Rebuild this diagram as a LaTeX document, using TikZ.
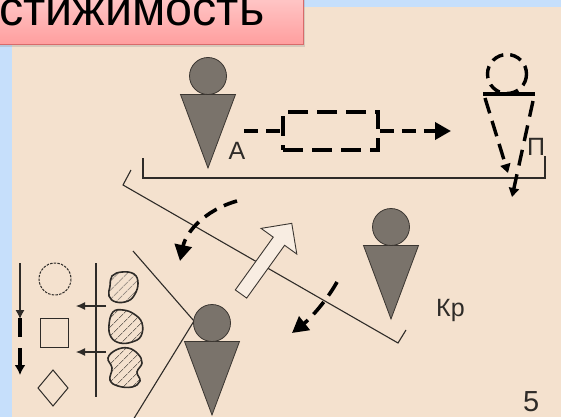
\documentclass[tikz,border=0pt]{standalone}
\usepackage{fontspec}
\setmainfont{Liberation Sans}
\usetikzlibrary{arrows.meta,patterns.meta,shadows,positioning}

\definecolor{fon}{HTML}{F4E1CE}
\definecolor{polosa}{HTML}{C6DFFB}
\definecolor{telo}{HTML}{7A736B}
\definecolor{kontur}{HTML}{3B3631}
\definecolor{liniya}{HTML}{2E2B28}
\definecolor{rozTop}{HTML}{FFCBCB}
\definecolor{rozBot}{HTML}{FF9E9E}
\definecolor{ramka}{HTML}{D86A6A}

% person: head + cone, #1 name, (#2,#3) head centre
\newcommand{\chelovek}[3]{%
  \fill[telo, draw=kontur, line width=0.8pt] (#2-27.5,#3+18.5) -- (#2+27.5,#3+18.5) -- (#2,#3+92) -- cycle;
  \draw[kontur, fill=telo, line width=0.8pt] (#2,#3) circle[radius=18.5];
  \coordinate (#1) at (#2,#3);
}

\begin{document}
\begin{tikzpicture}[x=1pt, y=-1pt,
    tonk/.style={draw=liniya, line width=1.1pt},
    shtrih/.style={draw=black, line width=3.6pt, dash pattern=on 14pt off 8pt},
    strelka/.style={-{Triangle[length=16pt,width=17pt]}},
    malstrelka/.style={-{Triangle[length=9pt,width=10pt]}},
    shtrihbox/.style={rectangle, draw=black, line width=3.6pt, dash pattern=on 20pt off 9pt,
      minimum width=95pt, minimum height=38pt, inner sep=0pt},
    metka/.style={text=liniya, font=\fontsize{25}{25}\selectfont, inner sep=0pt},
    pyatno/.style={draw=liniya, line width=1.6pt, pattern={Lines[angle=45,distance=6.5pt,line width=0.7pt]}, pattern color=liniya},
    figura/.style={draw=liniya, line width=1pt}]

  \useasboundingbox (0,0) rectangle (561,417);
  \fill[polosa] (0,0) rectangle (561,417);
  \fill[fon] (12,7) rectangle (561,417);

  % title plate
  \node[draw=ramka, line width=1.2pt, top color=rozTop, bottom color=rozBot, anchor=south west,
    minimum width=308pt, minimum height=52pt, inner sep=0pt,
    drop shadow={shadow xshift=1.5pt, shadow yshift=-2.5pt, opacity=0.25}] (plashka) at (-5,45) {};
  \node[anchor=base west, inner sep=0pt, font=\fontsize{48.5}{48.5}\selectfont] (zagolovok) at (-1,26) {стижимость};

  % boundary lines
  \draw[tonk] (143,158) -- (143,178) -- (545,178) -- (545,156);
  \draw[tonk] (131,170) -- (123,185) -- (398,343) -- (406,330);
  \coordinate (vershina) at (194,321);
  \draw[tonk] (133,251) -- (vershina) -- (133,420);

  % people
  \chelovek{chelA}{208}{76}
  \chelovek{chelKr}{391}{227}
  \chelovek{chelN}{212}{323}

  \node[metka] (lblA) at (237,151) {А};
  \node[metka] (lblP) at (536,147) {П};
  \node[metka, anchor=base west] (lblKr) at (436,316) {Кр};
  \node[metka, anchor=base west, font=\fontsize{29}{29}\selectfont] (nomer) at (523,411) {5};

  % A -> P through the block
  \node[shtrihbox] (blok) at (330.5,131) {};
  \coordinate (startA) at (244,131);
  \coordinate (konecP) at (451,131);
  \draw[shtrih] (startA) -- (blok.west);
  \draw[shtrih, strelka] (blok.east) -- (konecP);

  % dashed figure P
  \draw[black, line width=3.4pt, dash pattern=on 12pt off 7pt] (507,74) circle[radius=19.5];
  \draw[black, line width=3.4pt] (483,94) -- (535,94);
  \draw[black, line width=3.4pt, dash pattern=on 16pt off 8pt, malstrelka] (485,98) -- (508,173);
  \draw[black, line width=3.4pt, dash pattern=on 16pt off 9pt, malstrelka] (533,101) -- (512,197);

  % turning arrows
  \draw[shtrih, strelka] (237,201) .. controls (205,210) and (186,232) .. (180,261);
  \draw[shtrih, dash pattern=on 16pt off 8pt, strelka] (337,282) .. controls (327,300) and (311,318) .. (292,333);

  % hollow arrow
  \begin{scope}[shift={(241,294)}, rotate=54.3]
    \draw[draw=kontur, line width=0.9pt, fill=fon!60!white]
      (0,-7) -- (65,-7) -- (65,-22) -- (87,0) -- (65,22) -- (65,7) -- (0,7) -- cycle;
  \end{scope}

  % left panel
  \draw[figura, dash pattern=on 2.5pt off 1.2pt] (55,279) circle[radius=16];
  \draw[figura] (40,318) rectangle (68,347);
  \draw[figura] (53,370) -- (68,388) -- (53,406) -- (38,388) -- cycle;
  \draw[tonk] (96,263) -- (96,397);
  \draw[tonk, -{Latex[length=9pt,width=8pt]}] (106,306) -- (76,306);
  \draw[tonk, -{Latex[length=9pt,width=8pt]}] (106,352) -- (76,352);
  \draw[tonk, -{Latex[length=9pt,width=9pt]}] (20,263) -- (20,319);
  \draw[black, line width=3.6pt, dash pattern=on 19pt off 11pt, -{Latex[length=10pt,width=11pt]}] (20,318) -- (20,375);

  \draw[pyatno] plot[smooth cycle, tension=0.7] coordinates
    {(112,276) (122,272) (134,274) (138,283) (135,294) (128,301) (116,302) (109,296) (110,286)};
  \draw[pyatno] plot[smooth cycle, tension=0.7] coordinates
    {(113,312) (123,310) (134,314) (142,323) (141,336) (132,342) (120,343) (111,337) (109,325)};
  \draw[pyatno] plot[smooth cycle, tension=0.7] coordinates
    {(116,350) (128,348) (138,354) (142,363) (137,372) (140,381) (132,387) (118,386) (110,380) (112,368) (108,358)};
\end{tikzpicture}
\end{document}
